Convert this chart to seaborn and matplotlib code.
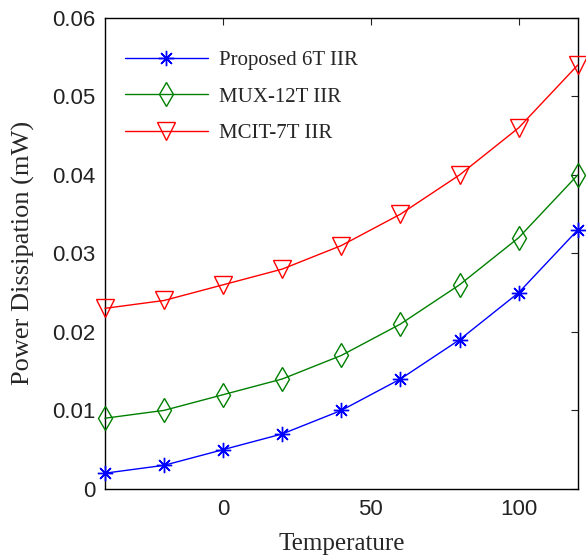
import matplotlib
matplotlib.use("Agg")
import matplotlib.pyplot as plt
import seaborn as sns
import pandas as pd

temperature = [-40, -20, 0, 20, 40, 60, 80, 100, 120]
proposed_6t = [0.002, 0.003, 0.005, 0.007, 0.010, 0.014, 0.019, 0.025, 0.033]
mux_12t = [0.009, 0.010, 0.012, 0.014, 0.017, 0.021, 0.026, 0.032, 0.040]
mcit_7t = [0.023, 0.024, 0.026, 0.028, 0.031, 0.035, 0.040, 0.046, 0.054]
series_names = ["Proposed 6T IIR", "MUX-12T IIR", "MCIT-7T IIR"]
x_ticks = [0, 50, 100]
y_ticks = [0, 0.01, 0.02, 0.03, 0.04, 0.05, 0.06]
y_tick_labels = ["0", "0.01", "0.02", "0.03", "0.04", "0.05", "0.06"]

rows = []
for name, vals in zip(series_names, [proposed_6t, mux_12t, mcit_7t]):
    for t, v in zip(temperature, vals):
        rows.append({"Temperature": t, "Power": v, "Series": name})
df = pd.DataFrame(rows)

sns.set_theme(style="white")
plt.rcParams["font.family"] = ["Liberation Serif", "DejaVu Serif"]

fig = plt.figure(figsize=(5.86, 5.6), dpi=100)
ax = fig.add_axes([0.179, 0.127, 0.807, 0.841])

palette = {series_names[0]: "#0000ff", series_names[1]: "#008000", series_names[2]: "#ff0000"}
markers = {series_names[0]: "*", series_names[1]: "d", series_names[2]: "v"}
final_markers = {series_names[0]: (8, 2, 0), series_names[1]: "d", series_names[2]: "v"}
msizes = {series_names[0]: 11, series_names[1]: 12.5, series_names[2]: 13}

sns.lineplot(data=df, x="Temperature", y="Power", hue="Series", style="Series",
             palette=palette, markers=markers, dashes=False, ax=ax,
             linewidth=1.0, markersize=12, markerfacecolor="none",
             markeredgewidth=1.0, legend=False)

for line, name in zip(ax.get_lines(), series_names):
    line.set_marker(final_markers[name])
    line.set_markeredgecolor(palette[name])
    line.set_markerfacecolor("none")
    line.set_markersize(msizes[name])
    line.set_clip_on(False)
    line.set_label(name)
    line.set_zorder(3)

ax.set_xlim(-40, 120)
ax.set_ylim(0, 0.06)
ax.set_xticks(x_ticks)
ax.set_yticks(y_ticks)
ax.set_yticklabels(y_tick_labels)
ax.tick_params(direction="in", length=5, width=0.8, top=True, right=True,
               labelsize=16, colors="#222222", pad=7)
for lbl in ax.get_xticklabels() + ax.get_yticklabels():
    lbl.set_family(["Liberation Sans", "DejaVu Sans"])
for sp in ax.spines.values():
    sp.set_color("black")
    sp.set_linewidth(1.0)

ax.set_xlabel("Temperature", fontsize=18, labelpad=10)
ax.set_ylabel("Power Dissipation (mW)", fontsize=19, labelpad=12)

leg = ax.legend(handles=ax.get_lines(), labels=series_names, loc="upper left",
                frameon=False, fontsize=15, handlelength=4.0, handletextpad=0.5,
                bbox_to_anchor=(0.042, 0.93), borderaxespad=0, borderpad=0,
                labelspacing=0.8)

fig.savefig("out.png", dpi=100)
